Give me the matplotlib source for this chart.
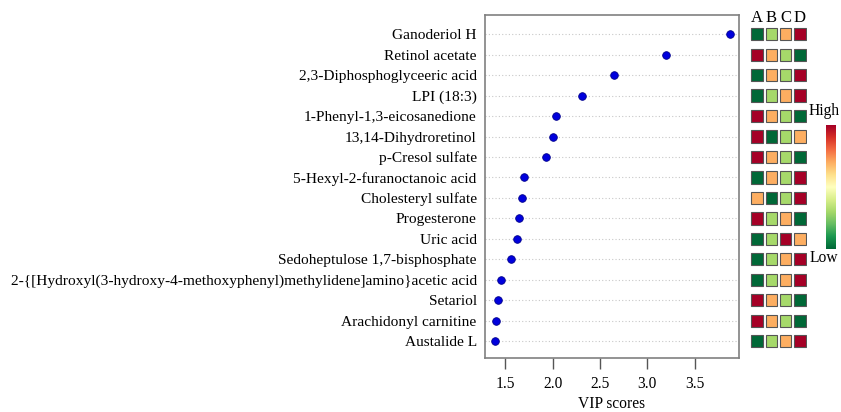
import matplotlib
matplotlib.use('Agg')
import matplotlib.pyplot as plt
import numpy as np
from matplotlib.colors import ListedColormap
from matplotlib.patches import Rectangle

plt.rcParams['font.family'] = ['Liberation Serif', 'DejaVu Serif']

# data (top to bottom)
metabolites = [
    'Ganoderiol H', 'Retinol acetate', '2,3-Diphosphoglyceeric acid', 'LPI (18:3)',
    '1-Phenyl-1,3-eicosanedione', '13,14-Dihydroretinol', 'p-Cresol sulfate',
    '5-Hexyl-2-furanoctanoic acid', 'Cholesteryl sulfate', 'Progesterone',
    'Uric acid', 'Sedoheptulose 1,7-bisphosphate',
    '2-{[Hydroxyl(3-hydroxy-4-methoxyphenyl)methylidene]amino}acetic acid',
    'Setariol', 'Arachidonyl carnitine', 'Austalide L',
]
vip = [3.88, 3.20, 2.65, 2.31, 2.04, 2.00, 1.93, 1.70, 1.68, 1.64,
       1.62, 1.56, 1.45, 1.42, 1.40, 1.39]
groups = ['A', 'B', 'C', 'D']
# relative level per group: 1 = low ... 4 = high
levels = [
    [1, 2, 3, 4], [4, 3, 2, 1], [1, 3, 2, 4], [1, 2, 3, 4],
    [4, 3, 2, 1], [4, 1, 2, 3], [4, 3, 2, 1], [1, 3, 2, 4],
    [3, 1, 2, 4], [4, 2, 3, 1], [1, 2, 4, 3], [1, 2, 3, 4],
    [1, 2, 3, 4], [4, 3, 2, 1], [4, 3, 2, 1], [1, 2, 3, 4],
]
level_colors = ['#006837', '#a6d96a', '#fdae61', '#a50026']

W, H = 841, 412
fig = plt.figure(figsize=(W / 100, H / 100), dpi=100)

# VIP dot plot
ax = fig.add_axes([485 / W, 1 - 358 / H, 254 / W, 343 / H])
y = np.arange(len(metabolites))
for yi in y:
    ax.axhline(yi, color='#c8c8c8', lw=0.8, ls=(0, (1, 2)), zorder=0)
ax.scatter(vip, y, s=30, color='#0000dd', edgecolor='#00008b', lw=0.6, zorder=3)
ax.set_ylim(15.82, -0.94)
ax.set_xlim(1.285, 3.97)
ax.set_yticks(y)
ax.set_yticklabels(metabolites, fontsize=11.1)
ax.tick_params(axis='y', length=0, pad=6)
ax.set_xticks([1.5, 2.0, 2.5, 3.0, 3.5])
ax.set_xticklabels(['1.5', '2.0', '2.5', '3.0', '3.5'], fontsize=11.2)
ax.tick_params(axis='x', length=8, width=1, color='#555555', pad=5)
ax.set_xlabel('VIP scores', fontsize=11.2, labelpad=3)
for sp in ax.spines.values():
    sp.set_color('#808080')
    sp.set_linewidth(1.2)

# group heatmap tiles
hax = fig.add_axes([750 / W, 1 - 358 / H, 57 / W, 343 / H], sharey=ax)
hax.set_xlim(-0.5, 3.5)
for i, row in enumerate(levels):
    for j, lv in enumerate(row):
        hax.add_patch(Rectangle((j - 0.41, i - 0.3), 0.82, 0.6,
                                facecolor=level_colors[lv - 1],
                                edgecolor='#555555', lw=0.8))
for j, g in enumerate(groups):
    hax.text(j, -0.8, g, ha='center', va='center', fontsize=12)
hax.axis('off')

# colour bar
cax = fig.add_axes([826 / W, 1 - 249 / H, 10 / W, 124 / H])
grad = np.linspace(1, 0, 256).reshape(-1, 1)
cmap = ListedColormap(plt.get_cmap('RdYlGn_r')(np.linspace(0.0, 1.0, 256)))
cax.imshow(grad, aspect='auto', cmap=cmap, vmin=0, vmax=1)
cax.axis('off')
fig.text(809 / W, 1 - 115 / H, 'High', fontsize=11.2, ha='left', va='baseline')
fig.text(810 / W, 1 - 262 / H, 'Low', fontsize=11.2, ha='left', va='baseline')

fig.savefig('out.png', dpi=100, facecolor='white')
